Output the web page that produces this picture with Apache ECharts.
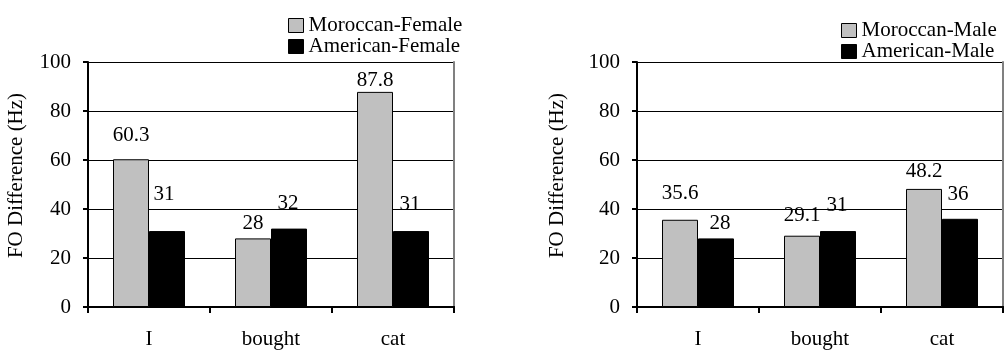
<!DOCTYPE html>
<html>
<head>
<meta charset="utf-8">
<script src="https://cdn.jsdelivr.net/npm/echarts@6/dist/echarts.min.js"></script>
<style>
  html, body { margin: 0; padding: 0; background: #fff; }
  #chart { width: 1004px; height: 351px; }
</style>
</head>
<body>
<div id="chart"></div>
<script>
// Words of the utterance
const categories = ['I', 'bought', 'cat'];

// F0 difference (Hz), female speakers
const moroccanFemale = [60.3, 28, 87.8];
const americanFemale = [31, 32, 31];

// F0 difference (Hz), male speakers
const moroccanMale = [35.6, 29.1, 48.2];
const americanMale = [28, 31, 36];

// Value-axis ticks
const yTicks = [0, 20, 40, 60, 80, 100];

// Hand placement of each value label: [dx, height of label centre above bar top]
const labelPlaceMF = [[0, 24], [0, 15], [0, 11]];
const labelPlaceAF = [[-3, 37], [-1, 25], [-1, 27]];
const labelPlaceMM = [[0, 26], [0, 20], [0, 17]];
const labelPlaceAM = [[4, 15], [-1, 26], [-2, 24]];

const FONT = 'Liberation Serif';
const FS = 21;
const GREY = '#c0c0c0';

function withLabels(values, place) {
  return values.map((v, i) => ({
    value: v,
    label: { offset: [place[i][0], -(place[i][1] - 10)] }
  }));
}

function barSeries(name, values, place, color, axisIdx) {
  return {
    name: name,
    type: 'bar',
    xAxisIndex: axisIdx,
    yAxisIndex: axisIdx * 2,
    barWidth: 36,
    barGap: '0%',
    data: withLabels(values, place),
    itemStyle: { color: color, borderColor: '#000', borderWidth: 1 },
    label: {
      show: true,
      position: 'top',
      distance: 0,
      fontFamily: FONT,
      fontSize: FS,
      lineHeight: 20,
      color: '#000'
    },
    emphasis: { disabled: true },
    animation: false
  };
}

function valueAxis(gridIndex, nameGap) {
  return {
    type: 'value',
    gridIndex: gridIndex,
    min: yTicks[0],
    max: yTicks[yTicks.length - 1],
    interval: yTicks[1] - yTicks[0],
    name: 'FO Difference (Hz)',
    nameLocation: 'middle',
    nameGap: nameGap,
    nameRotate: 90,
    nameTextStyle: { fontFamily: FONT, fontSize: FS, color: '#000', padding: [0, 0, 0, 18] },
    axisLine: { show: true, lineStyle: { color: '#000', width: 2 } },
    axisTick: { show: true, inside: false, length: 5, lineStyle: { color: '#000', width: 2 } },
    axisLabel: { fontFamily: FONT, fontSize: FS, color: '#000', margin: 17 },
    splitLine: { show: true, lineStyle: { color: '#000', width: 1 } }
  };
}

function rightBorder(gridIndex) {
  return {
    type: 'value',
    gridIndex: gridIndex,
    position: 'right',
    min: yTicks[0],
    max: yTicks[yTicks.length - 1],
    interval: yTicks[1] - yTicks[0],
    axisLine: { show: true, lineStyle: { color: '#808080', width: 2 } },
    axisTick: { show: false },
    axisLabel: { show: false },
    splitLine: { show: false }
  };
}

function catAxis(gridIndex) {
  return {
    type: 'category',
    gridIndex: gridIndex,
    data: categories,
    boundaryGap: true,
    axisLine: { show: true, lineStyle: { color: '#000', width: 2 } },
    axisTick: { show: true, length: 6, alignWithLabel: false, lineStyle: { color: '#000', width: 2 } },
    axisLabel: { fontFamily: FONT, fontSize: FS, color: '#000', margin: 22 },
    splitLine: { show: false }
  };
}

function topBorder(gridIndex) {
  return {
    type: 'category',
    gridIndex: gridIndex,
    position: 'top',
    data: categories,
    axisLine: { show: true, lineStyle: { color: '#000', width: 2 } },
    axisTick: { show: false },
    axisLabel: { show: false }
  };
}

function legend(left, top, names) {
  return {
    orient: 'vertical',
    left: left,
    top: top,
    itemWidth: 15,
    itemHeight: 14,
    itemGap: 0,
    icon: 'rect',
    selectedMode: false,
    data: names,
    textStyle: { fontFamily: FONT, fontSize: FS, lineHeight: 18, color: '#000' },
    itemStyle: { borderColor: '#000', borderWidth: 1 }
  };
}

const chart = echarts.init(document.getElementById('chart'), null, { renderer: 'canvas' });

chart.setOption({
  backgroundColor: '#fff',
  animation: false,
  legend: [
    legend(283, 10, ['Moroccan-Female', 'American-Female']),
    legend(836, 15, ['Moroccan-Male', 'American-Male'])
  ],
  grid: [
    { left: 88, right: 550, top: 62, bottom: 44 },
    { left: 637, right: 1, top: 62, bottom: 44 }
  ],
  xAxis: [catAxis(0), catAxis(1), topBorder(0), topBorder(1)],
  yAxis: [valueAxis(0, 61), rightBorder(0), valueAxis(1, 69), rightBorder(1)],
  series: [
    barSeries('Moroccan-Female', moroccanFemale, labelPlaceMF, GREY, 0),
    barSeries('American-Female', americanFemale, labelPlaceAF, '#000', 0),
    barSeries('Moroccan-Male', moroccanMale, labelPlaceMM, GREY, 1),
    barSeries('American-Male', americanMale, labelPlaceAM, '#000', 1)
  ]
});
</script>
</body>
</html>
